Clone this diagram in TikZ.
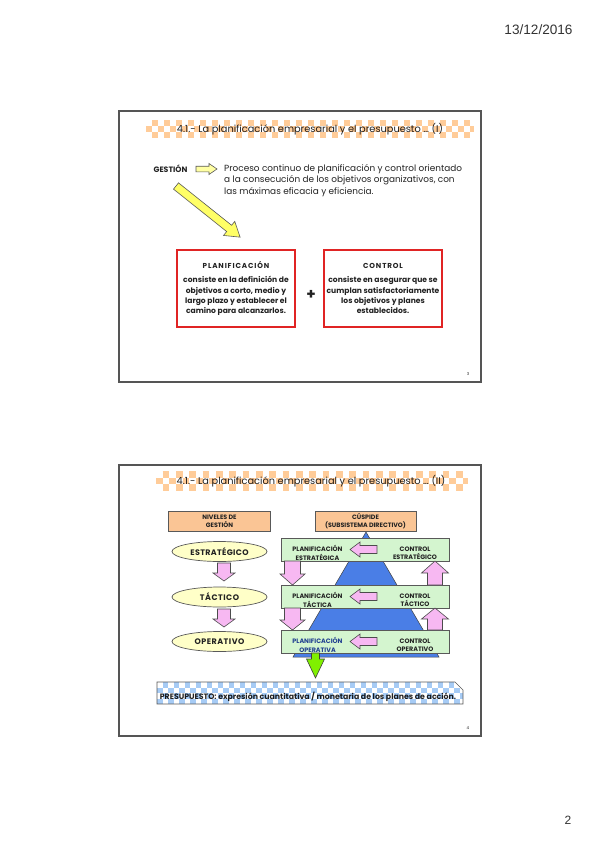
\documentclass[tikz,border=0pt]{standalone}
\usepackage{fontspec}
\usetikzlibrary{shapes.geometric}
\setmainfont{Poppins}
\newfontfamily\datefont{Liberation Sans}
\definecolor{framec}{HTML}{555555}
\definecolor{orangeck}{HTML}{FFCC99}
\definecolor{orangebox}{HTML}{FAC595}
\definecolor{blueck}{HTML}{A6CBF5}
\definecolor{pinkfill}{HTML}{F7B8F2}
\definecolor{greenband}{HTML}{D4F5CF}
\definecolor{pyrblue}{HTML}{4A7EE6}
\definecolor{limec}{HTML}{80F000}
\definecolor{ellfill}{HTML}{FFFFC8}
\definecolor{redbox}{HTML}{E02424}
\definecolor{txt}{HTML}{222222}
\definecolor{opblue}{HTML}{203F90}
\definecolor{yelarrow}{HTML}{FFFF66}
% checker: x0, y0 (top), x1, number of rows, square size, colour
\newcommand\checkerfill[6]{%
  \foreach \cj in {1,...,#4}{%
    \pgfmathsetmacro\cy{#2+(\cj-0.5)*#5}%
    \pgfmathsetmacro\cph{mod(\cj,2)*#5}%
    \draw[#6,line width=#5pt,dash pattern=on #5pt off #5pt,dash phase=\cph pt] (#1,\cy) -- (#3,\cy);}}
% block arrow: tail x, tail y, angle, length, shaft half, head half, head length, style
\newcommand\blockarrow[8]{%
  \begin{scope}[shift={(#1,#2)},rotate=#3]
    \draw[#8] (0,-#5) -- ({#4-#7},-#5) -- ({#4-#7},-#6) -- (#4,0) -- ({#4-#7},#6) -- ({#4-#7},#5) -- (0,#5) -- cycle;
  \end{scope}}
\begin{document}
\begin{tikzpicture}[x=1pt,y=-1pt,
  every node/.style={text=txt,inner sep=0pt},
  slideframe/.style={draw=framec,line width=1.6pt},
  redrect/.style={draw=redbox,line width=1.3pt,fill=white,minimum width=118pt,minimum height=77pt,align=center,font=\fontsize{7.6}{10.4}\selectfont\bfseries},
  orangerect/.style={draw=gray!70!black,line width=0.7pt,fill=orangebox,minimum width=102pt,minimum height=20pt,align=center,font=\fontsize{6.3}{7.6}\selectfont\bfseries},
  levelell/.style={ellipse,draw=gray!70!black,line width=0.7pt,fill=ellfill,minimum width=95pt,minimum height=20pt,font=\fontsize{8}{8}\selectfont\bfseries},
  band/.style={draw=gray!70!black,line width=0.7pt,fill=greenband},
  bandtxt/.style={align=center,font=\fontsize{6.4}{8.4}\selectfont\bfseries},
  pinkarrow/.style={fill=pinkfill,draw=gray!60!black,line width=0.6pt},
  titletxt/.style={font=\fontsize{9.8}{11}\selectfont},
  ]
\useasboundingbox (0,0) rectangle (599,848);
\fill[white] (0,0) rectangle (599,848);

% header and page number
\node[font=\datefont\fontsize{13.6}{14}\selectfont,text=black!80] (date) at (538.5,30) {13/12/2016};
\node[font=\datefont\fontsize{12}{14}\selectfont,text=black!80] (pagenum) at (568,820) {2};

% ================= SLIDE 1 =================
\draw[slideframe] (119,111) rectangle (481,382);
\node[titletxt] (title1) at (310,129.5) {4.1.- La planificación empresarial y el presupuesto … (I)};
\begin{scope}[blend mode=multiply]
  \checkerfill{146}{120}{474}{3}{6}{orangeck}
\end{scope}

\node[font=\fontsize{7.8}{8}\selectfont\bfseries] (gestion) at (170.5,169) {GESTIÓN};
\blockarrow{196}{169}{0}{21}{2.8}{5.5}{8}{fill=yelarrow!60!white,draw=gray!70!black,line width=0.6pt}
\node[anchor=west,align=left,font=\fontsize{8.9}{11.5}\selectfont] (proceso) at (224,180.5)
  {Proceso continuo de planificación y control orientado\\a la consecución de los objetivos organizativos, con\\las máximas eficacia y eficiencia.};
\blockarrow{176}{186}{-38.6}{82}{4}{9}{14}{fill=yelarrow,draw=gray!70!black,line width=0.6pt}

\node[redrect] (planbox) at (236,288.5)
  {{\fontsize{7.2}{9}\selectfont\addfontfeature{LetterSpace=12}PLANIFICACIÓN}\\[4pt]consiste en la definición de\\objetivos a corto, medio y\\largo plazo y establecer el\\camino para alcanzarlos.};
\node[font=\fontsize{15}{15}\selectfont\bfseries] (plus) at (311,295) {+};
\node[redrect] (ctrlbox) at (383,288.5)
  {{\fontsize{7.2}{9}\selectfont\addfontfeature{LetterSpace=12}CONTROL}\\[4pt]consiste en asegurar que se\\cumplan satisfactoriamente\\los objetivos y planes\\establecidos.};
\node[font=\fontsize{4}{5}\selectfont] (num3) at (468,374) {3};

% ================= SLIDE 2 =================
\draw[slideframe] (119,465) rectangle (481,736);
\node[titletxt] (title2) at (311,481.5) {4.1.- La planificación empresarial y el presupuesto … (II)};
\begin{scope}[blend mode=multiply]
  \checkerfill{156}{471}{468}{3}{6.67}{orangeck}
\end{scope}

\node[orangerect] (niveles) at (219.5,521) {NIVELES DE\\GESTIÓN};

% pyramid
\fill[pyrblue,draw=gray!50!black,line width=0.5pt] (366,532) -- (439,657) -- (293,657) -- cycle;
\node[orangerect,minimum width=101pt] (cuspide) at (365.5,521) {CÚSPIDE\\(SUBSISTEMA DIRECTIVO)};

% bands
\draw[band] (281,538) rectangle (449,561);
\draw[band] (281,585) rectangle (449,608);
\draw[band] (281,630) rectangle (449,653);

% arrows inside bands
\blockarrow{377}{549.5}{180}{27}{4}{7.5}{10}{pinkarrow}
\blockarrow{377}{596.5}{180}{27}{4}{7.5}{10}{pinkarrow}
\blockarrow{377}{641.5}{180}{27}{4}{7.5}{10}{pinkarrow}
% between bands
\blockarrow{292.5}{561}{-90}{24}{8}{12.5}{11}{pinkarrow}
\blockarrow{292.5}{608}{-90}{22}{8}{12.5}{10}{pinkarrow}
\blockarrow{435}{585}{90}{24}{7.5}{13.5}{12}{pinkarrow}
\blockarrow{435}{630}{90}{22}{7.5}{13.5}{11}{pinkarrow}

% band texts
\node[bandtxt] (pe) at (317.5,553) {PLANIFICACIÓN\\ESTRATÉGICA};
\node[bandtxt] (ce) at (415,553) {CONTROL\\ESTRATÉGICO};
\node[bandtxt] (pt) at (317.5,600) {PLANIFICACIÓN\\TÁCTICA};
\node[bandtxt] (ct) at (415,600) {CONTROL\\TÁCTICO};
\node[bandtxt,text=opblue] (po) at (317.5,645) {PLANIFICACIÓN\\OPERATIVA};
\node[bandtxt] (co) at (415,645) {CONTROL\\OPERATIVO};

% levels
\node[levelell] (estr) at (219.5,551.5) {{\addfontfeature{LetterSpace=4}ESTRATÉGICO}};
\node[levelell] (tact) at (219.5,597) {{\addfontfeature{LetterSpace=6}TÁCTICO}};
\node[levelell] (oper) at (219.5,641.5) {{\addfontfeature{LetterSpace=6}OPERATIVO}};
\blockarrow{224}{563}{-90}{18}{6.5}{11}{8}{pinkarrow}
\blockarrow{224}{609}{-90}{18}{6.5}{11}{8}{pinkarrow}

% green arrow
\blockarrow{315.5}{653}{-90}{25}{4}{9}{19}{fill=limec,draw=gray!50!black,line width=0.6pt}

% presupuesto band
\node[font=\fontsize{7.8}{8}\selectfont\bfseries] (presup) at (308,696.5)
  {PRESUPUESTO: expresión cuantitativa / monetaria de los planes de acción.};
\begin{scope}[blend mode=multiply]
  \clip (157,682) -- (455,682) -- (463,690) -- (463,704) -- (157,704) -- cycle;
  \checkerfill{157}{682}{463}{4}{5.5}{blueck}
\end{scope}
\draw[gray!70!black,line width=0.7pt] (157,682) -- (455,682) -- (463,690) -- (463,704) -- (157,704) -- cycle;
\node[font=\fontsize{4}{5}\selectfont] (num4) at (468,728) {4};
\end{tikzpicture}
\end{document}
